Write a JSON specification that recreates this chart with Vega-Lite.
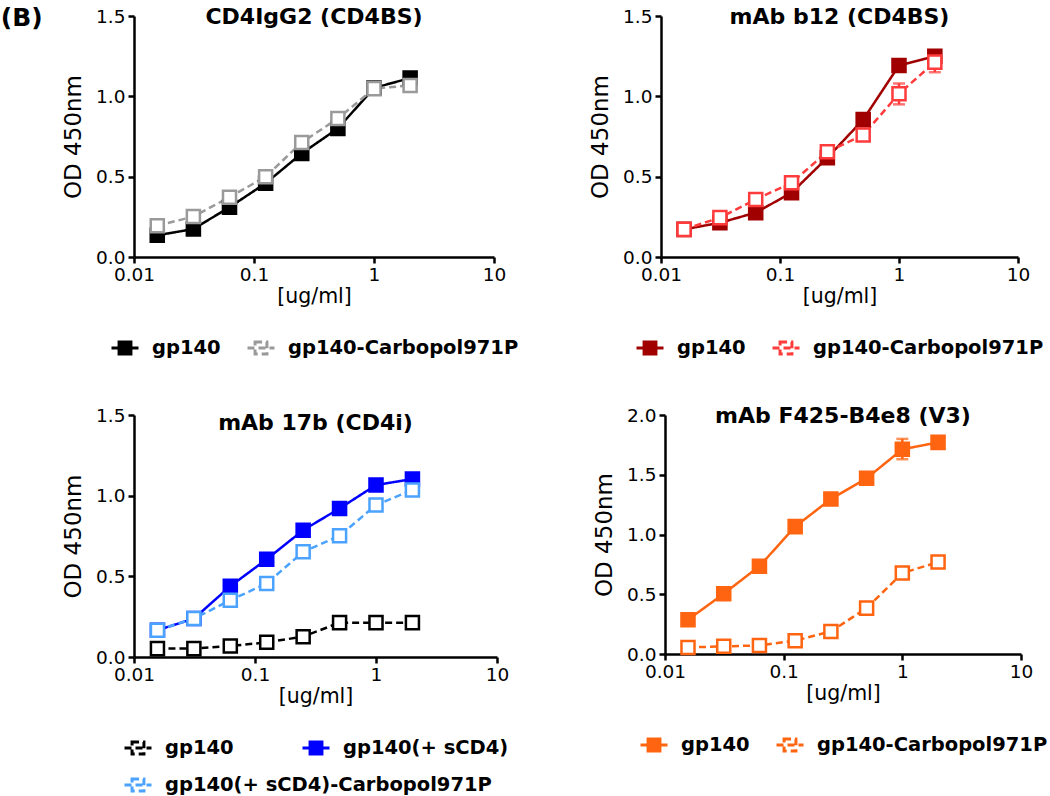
{
  "$schema": "https://vega.github.io/schema/vega-lite/v6.json",
  "background": "white",
  "padding": {"left": 0, "top": 6, "right": 0, "bottom": 0},
  "config": {
    "font": "DejaVu Sans",
    "view": {"stroke": null},
    "axis": {"domainColor": "#000", "domainWidth": 2.5, "tickColor": "#000", "tickWidth": 2.5, "tickSize": 6, "labelColor": "#000", "labelFont": "DejaVu Sans", "labelFontSize": 18.5, "titleFont": "DejaVu Sans", "titleFontWeight": "normal", "titleColor": "#000", "grid": false, "labelPadding": 2},
    "axisX": {"titleFontSize": 20.5, "titlePadding": 3, "labelFlush": false},
    "axisY": {"titleFontSize": 23, "titlePadding": 10, "labelPadding": 3},
    "title": {"font": "DejaVu Sans", "fontSize": 22, "fontWeight": "bold", "color": "#000", "baseline": "alphabetic", "offset": -22},
    "legend": {"orient": "bottom", "direction": "horizontal", "labelFont": "DejaVu Sans", "labelFontSize": 19.5, "labelFontWeight": "bold", "labelColor": "#000", "labelLimit": 0, "symbolStrokeWidth": 3, "labelOffset": 12, "columnPadding": 20, "offset": 26, "layout": {"bottom": {"anchor": "middle", "direction": "vertical", "margin": 10}}}
  },
  "title": {"text": "(B)", "orient": "left", "anchor": "end", "angle": 0, "align": "right", "baseline": "top", "fontSize": 25, "fontWeight": "bold", "offset": -22},
  "datasets": {
    "p1": [
      {"c": 0.015625, "od": 0.135, "s": "gp140"},
      {"c": 0.03125, "od": 0.174, "s": "gp140"},
      {"c": 0.0625, "od": 0.31, "s": "gp140"},
      {"c": 0.125, "od": 0.459, "s": "gp140"},
      {"c": 0.25, "od": 0.645, "s": "gp140"},
      {"c": 0.5, "od": 0.8, "s": "gp140"},
      {"c": 1, "od": 1.052, "s": "gp140"},
      {"c": 2, "od": 1.114, "s": "gp140"},
      {"c": 0.015625, "od": 0.194, "s": "gp140-Carbopol971P"},
      {"c": 0.03125, "od": 0.252, "s": "gp140-Carbopol971P"},
      {"c": 0.0625, "od": 0.372, "s": "gp140-Carbopol971P"},
      {"c": 0.125, "od": 0.5, "s": "gp140-Carbopol971P"},
      {"c": 0.25, "od": 0.713, "s": "gp140-Carbopol971P"},
      {"c": 0.5, "od": 0.862, "s": "gp140-Carbopol971P"},
      {"c": 1, "od": 1.048, "s": "gp140-Carbopol971P"},
      {"c": 2, "od": 1.068, "s": "gp140-Carbopol971P"}
    ],
    "p2": [
      {"c": 0.015625, "od": 0.172, "s": "gp140"},
      {"c": 0.03125, "od": 0.213, "s": "gp140"},
      {"c": 0.0625, "od": 0.276, "s": "gp140"},
      {"c": 0.125, "od": 0.4, "s": "gp140"},
      {"c": 0.25, "od": 0.618, "s": "gp140"},
      {"c": 0.5, "od": 0.855, "s": "gp140"},
      {"c": 1, "od": 1.192, "s": "gp140"},
      {"c": 2, "od": 1.25, "s": "gp140", "lo": 1.22, "hi": 1.28},
      {"c": 0.015625, "od": 0.172, "s": "gp140-Carbopol971P"},
      {"c": 0.03125, "od": 0.245, "s": "gp140-Carbopol971P"},
      {"c": 0.0625, "od": 0.358, "s": "gp140-Carbopol971P"},
      {"c": 0.125, "od": 0.462, "s": "gp140-Carbopol971P"},
      {"c": 0.25, "od": 0.655, "s": "gp140-Carbopol971P"},
      {"c": 0.5, "od": 0.759, "s": "gp140-Carbopol971P"},
      {"c": 1, "od": 1.016, "s": "gp140-Carbopol971P", "lo": 0.95, "hi": 1.08},
      {"c": 2, "od": 1.213, "s": "gp140-Carbopol971P", "lo": 1.15, "hi": 1.27}
    ],
    "p3": [
      {"c": 0.015625, "od": 0.052, "s": "gp140"},
      {"c": 0.03125, "od": 0.052, "s": "gp140"},
      {"c": 0.0625, "od": 0.068, "s": "gp140"},
      {"c": 0.125, "od": 0.091, "s": "gp140"},
      {"c": 0.25, "od": 0.126, "s": "gp140"},
      {"c": 0.5, "od": 0.213, "s": "gp140"},
      {"c": 1, "od": 0.213, "s": "gp140"},
      {"c": 2, "od": 0.213, "s": "gp140"},
      {"c": 0.015625, "od": 0.166, "s": "gp140(+ sCD4)"},
      {"c": 0.03125, "od": 0.238, "s": "gp140(+ sCD4)"},
      {"c": 0.0625, "od": 0.439, "s": "gp140(+ sCD4)"},
      {"c": 0.125, "od": 0.606, "s": "gp140(+ sCD4)"},
      {"c": 0.25, "od": 0.786, "s": "gp140(+ sCD4)"},
      {"c": 0.5, "od": 0.921, "s": "gp140(+ sCD4)"},
      {"c": 1, "od": 1.066, "s": "gp140(+ sCD4)"},
      {"c": 2, "od": 1.103, "s": "gp140(+ sCD4)"},
      {"c": 0.015625, "od": 0.166, "s": "gp140(+ sCD4)-Carbopol971P"},
      {"c": 0.03125, "od": 0.238, "s": "gp140(+ sCD4)-Carbopol971P"},
      {"c": 0.0625, "od": 0.352, "s": "gp140(+ sCD4)-Carbopol971P"},
      {"c": 0.125, "od": 0.456, "s": "gp140(+ sCD4)-Carbopol971P"},
      {"c": 0.25, "od": 0.652, "s": "gp140(+ sCD4)-Carbopol971P"},
      {"c": 0.5, "od": 0.751, "s": "gp140(+ sCD4)-Carbopol971P"},
      {"c": 1, "od": 0.942, "s": "gp140(+ sCD4)-Carbopol971P"},
      {"c": 2, "od": 1.035, "s": "gp140(+ sCD4)-Carbopol971P"}
    ],
    "p4": [
      {"c": 0.015625, "od": 0.287, "s": "gp140"},
      {"c": 0.03125, "od": 0.504, "s": "gp140"},
      {"c": 0.0625, "od": 0.735, "s": "gp140"},
      {"c": 0.125, "od": 1.066, "s": "gp140"},
      {"c": 0.25, "od": 1.297, "s": "gp140", "lo": 1.27, "hi": 1.33},
      {"c": 0.5, "od": 1.47, "s": "gp140"},
      {"c": 1, "od": 1.713, "s": "gp140", "lo": 1.63, "hi": 1.8},
      {"c": 2, "od": 1.771, "s": "gp140"},
      {"c": 0.015625, "od": 0.055, "s": "gp140-Carbopol971P"},
      {"c": 0.03125, "od": 0.064, "s": "gp140-Carbopol971P"},
      {"c": 0.0625, "od": 0.072, "s": "gp140-Carbopol971P"},
      {"c": 0.125, "od": 0.111, "s": "gp140-Carbopol971P"},
      {"c": 0.25, "od": 0.189, "s": "gp140-Carbopol971P"},
      {"c": 0.5, "od": 0.384, "s": "gp140-Carbopol971P"},
      {"c": 1, "od": 0.677, "s": "gp140-Carbopol971P"},
      {"c": 2, "od": 0.769, "s": "gp140-Carbopol971P"}
    ]
  },
  "vconcat": [
    {
      "hconcat": [
        {
          "width": 360, "height": 241,
          "data": {"name": "p1"},
          "title": {"text": "CD4IgG2 (CD4BS)"},
          "encoding": {
            "x": {"field": "c", "type": "quantitative", "scale": {"type": "log", "domain": [0.01, 10], "nice": false}, "axis": {"values": [0.01, 0.1, 1, 10], "format": "~g", "title": "[ug/ml]"}},
            "y": {"field": "od", "type": "quantitative", "scale": {"domain": [0, 1.5], "nice": false}, "axis": {"values": [0, 0.5, 1, 1.5], "format": ".1f", "title": "OD 450nm"}}
          },
          "layer": [
            {"mark": {"type": "line", "strokeWidth": 2.5},
             "encoding": {
               "stroke": {"field": "s", "type": "nominal", "scale": {"domain": ["gp140", "gp140-Carbopol971P"], "range": ["#000000", "#9a9a9a"]}, "legend": {"title": null, "symbolType": "M-1,0H1M-0.44,-0.44H0.44V0.44H-0.44Z", "symbolSize": 729}},
               "strokeDash": {"field": "s", "type": "nominal", "scale": {"domain": ["gp140", "gp140-Carbopol971P"], "range": [[1, 0], [7, 4]]}, "legend": null}
             }},
            {"mark": {"type": "point", "shape": "square", "size": 170, "filled": true, "opacity": 1, "strokeWidth": 2.5},
             "encoding": {
               "stroke": {"field": "s", "type": "nominal", "scale": {"domain": ["gp140", "gp140-Carbopol971P"], "range": ["#000000", "#9a9a9a"]}, "legend": {"title": null, "symbolType": "M-1,0H1M-0.44,-0.44H0.44V0.44H-0.44Z", "symbolSize": 729}},
               "fill": {"field": "s", "type": "nominal", "scale": {"domain": ["gp140", "gp140-Carbopol971P"], "range": ["#000000", "#ffffff"]}, "legend": {"title": null, "symbolType": "M-1,0H1M-0.44,-0.44H0.44V0.44H-0.44Z", "symbolSize": 729}}
             }}
          ]
        },
        {
          "width": 357, "height": 241,
          "data": {"name": "p2"},
          "title": {"text": "mAb  b12 (CD4BS)"},
          "encoding": {
            "x": {"field": "c", "type": "quantitative", "scale": {"type": "log", "domain": [0.01, 10], "nice": false}, "axis": {"values": [0.01, 0.1, 1, 10], "format": "~g", "title": "[ug/ml]"}},
            "y": {"field": "od", "type": "quantitative", "scale": {"domain": [0, 1.5], "nice": false}, "axis": {"values": [0, 0.5, 1, 1.5], "format": ".1f", "title": "OD 450nm"}}
          },
          "layer": [
            {"transform": [{"filter": "isValid(datum.lo) && datum.s == 'gp140'"}],
             "mark": {"type": "errorbar", "ticks": {"size": 12}, "thickness": 2.5, "color": "#a00000"},
             "encoding": {
               "y": {"field": "lo", "type": "quantitative", "title": "OD 450nm"},
               "y2": {"field": "hi"}
             }},
            {"transform": [{"filter": "isValid(datum.lo) && datum.s == 'gp140-Carbopol971P'"}],
             "mark": {"type": "errorbar", "ticks": {"size": 12}, "thickness": 2.5, "color": "#ff3b3b"},
             "encoding": {
               "y": {"field": "lo", "type": "quantitative", "title": "OD 450nm"},
               "y2": {"field": "hi"}
             }},
            {"mark": {"type": "line", "strokeWidth": 2.5},
             "encoding": {
               "stroke": {"field": "s", "type": "nominal", "scale": {"domain": ["gp140", "gp140-Carbopol971P"], "range": ["#a00000", "#ff3b3b"]}, "legend": {"title": null, "symbolType": "M-1,0H1M-0.44,-0.44H0.44V0.44H-0.44Z", "symbolSize": 729}},
               "strokeDash": {"field": "s", "type": "nominal", "scale": {"domain": ["gp140", "gp140-Carbopol971P"], "range": [[1, 0], [7, 4]]}, "legend": null}
             }},
            {"mark": {"type": "point", "shape": "square", "size": 170, "filled": true, "opacity": 1, "strokeWidth": 2.5},
             "encoding": {
               "stroke": {"field": "s", "type": "nominal", "scale": {"domain": ["gp140", "gp140-Carbopol971P"], "range": ["#a00000", "#ff3b3b"]}, "legend": {"title": null, "symbolType": "M-1,0H1M-0.44,-0.44H0.44V0.44H-0.44Z", "symbolSize": 729}},
               "fill": {"field": "s", "type": "nominal", "scale": {"domain": ["gp140", "gp140-Carbopol971P"], "range": ["#a00000", "#ffffff"]}, "legend": {"title": null, "symbolType": "M-1,0H1M-0.44,-0.44H0.44V0.44H-0.44Z", "symbolSize": 729}}
             }}
          ]
        }
      ],
      "spacing": 70,
      "resolve": {"scale": {"color": "independent", "stroke": "independent", "fill": "independent", "strokeDash": "independent"}, "legend": {"color": "independent", "stroke": "independent", "fill": "independent"}}
    },
    {
      "hconcat": [
        {
          "width": 363, "height": 242,
          "data": {"name": "p3"},
          "title": {"text": "mAb 17b (CD4i)", "offset": -29},
          "encoding": {
            "x": {"field": "c", "type": "quantitative", "scale": {"type": "log", "domain": [0.01, 10], "nice": false}, "axis": {"values": [0.01, 0.1, 1, 10], "format": "~g", "title": "[ug/ml]"}},
            "y": {"field": "od", "type": "quantitative", "scale": {"domain": [0, 1.5], "nice": false}, "axis": {"values": [0, 0.5, 1, 1.5], "format": ".1f", "title": "OD 450nm"}}
          },
          "layer": [
            {
              "transform": [{"filter": "datum.s != 'gp140(+ sCD4)-Carbopol971P'"}],
              "layer": [
                {"mark": {"type": "line", "strokeWidth": 2.5},
                 "encoding": {
                   "stroke": {"field": "s", "type": "nominal", "scale": {"domain": ["gp140", "gp140(+ sCD4)"], "range": ["#000000", "#0000ff"]}, "legend": {"title": null, "columnPadding": 62, "symbolType": "M-1,0H1M-0.44,-0.44H0.44V0.44H-0.44Z", "symbolSize": 729}},
                   "strokeDash": {"field": "s", "type": "nominal", "scale": {"domain": ["gp140", "gp140(+ sCD4)"], "range": [[7, 4], [1, 0]]}, "legend": null}
                 }},
                {"mark": {"type": "point", "shape": "square", "size": 170, "filled": true, "opacity": 1, "strokeWidth": 2.5},
                 "encoding": {
                   "stroke": {"field": "s", "type": "nominal", "scale": {"domain": ["gp140", "gp140(+ sCD4)"], "range": ["#000000", "#0000ff"]}, "legend": {"title": null, "columnPadding": 62, "symbolType": "M-1,0H1M-0.44,-0.44H0.44V0.44H-0.44Z", "symbolSize": 729}},
                   "fill": {"field": "s", "type": "nominal", "scale": {"domain": ["gp140", "gp140(+ sCD4)"], "range": ["#ffffff", "#0000ff"]}, "legend": {"title": null, "columnPadding": 62, "symbolType": "M-1,0H1M-0.44,-0.44H0.44V0.44H-0.44Z", "symbolSize": 729}}
                 }}
              ]
            },
            {
              "transform": [{"filter": "datum.s == 'gp140(+ sCD4)-Carbopol971P'"}],
              "layer": [
                {"mark": {"type": "line", "strokeWidth": 2.5},
                 "encoding": {
                   "stroke": {"field": "s", "type": "nominal", "scale": {"domain": ["gp140(+ sCD4)-Carbopol971P"], "range": ["#4ba3ff"]}, "legend": {"title": null, "symbolType": "M-1,0H1M-0.44,-0.44H0.44V0.44H-0.44Z", "symbolSize": 729}},
                   "strokeDash": {"field": "s", "type": "nominal", "scale": {"domain": ["gp140(+ sCD4)-Carbopol971P"], "range": [[7, 4]]}, "legend": null}
                 }},
                {"mark": {"type": "point", "shape": "square", "size": 170, "filled": true, "opacity": 1, "strokeWidth": 2.5},
                 "encoding": {
                   "stroke": {"field": "s", "type": "nominal", "scale": {"domain": ["gp140(+ sCD4)-Carbopol971P"], "range": ["#4ba3ff"]}, "legend": {"title": null, "symbolType": "M-1,0H1M-0.44,-0.44H0.44V0.44H-0.44Z", "symbolSize": 729}},
                   "fill": {"field": "s", "type": "nominal", "scale": {"domain": ["gp140(+ sCD4)-Carbopol971P"], "range": ["#ffffff"]}, "legend": {"title": null, "symbolType": "M-1,0H1M-0.44,-0.44H0.44V0.44H-0.44Z", "symbolSize": 729}}
                 }}
              ]
            }
          ],
          "resolve": {"scale": {"stroke": "independent", "fill": "independent", "strokeDash": "independent"}, "legend": {"stroke": "independent", "fill": "independent"}}
        },
        {
          "width": 356, "height": 239,
          "data": {"name": "p4"},
          "title": {"text": "mAb F425-B4e8 (V3)"},
          "encoding": {
            "x": {"field": "c", "type": "quantitative", "scale": {"type": "log", "domain": [0.01, 10], "nice": false}, "axis": {"values": [0.01, 0.1, 1, 10], "format": "~g", "title": "[ug/ml]"}},
            "y": {"field": "od", "type": "quantitative", "scale": {"domain": [0, 2], "nice": false}, "axis": {"values": [0, 0.5, 1, 1.5, 2], "format": ".1f", "title": "OD 450nm"}}
          },
          "layer": [
            {"transform": [{"filter": "isValid(datum.lo)"}],
             "mark": {"type": "errorbar", "ticks": {"size": 12}, "thickness": 2.5, "color": "#ff6410"},
             "encoding": {
               "y": {"field": "lo", "type": "quantitative", "title": "OD 450nm"},
               "y2": {"field": "hi"}
             }},
            {"mark": {"type": "line", "strokeWidth": 2.5},
             "encoding": {
               "stroke": {"field": "s", "type": "nominal", "scale": {"domain": ["gp140", "gp140-Carbopol971P"], "range": ["#ff6410", "#ff6410"]}, "legend": {"title": null, "symbolType": "M-1,0H1M-0.44,-0.44H0.44V0.44H-0.44Z", "symbolSize": 729}},
               "strokeDash": {"field": "s", "type": "nominal", "scale": {"domain": ["gp140", "gp140-Carbopol971P"], "range": [[1, 0], [7, 4]]}, "legend": null}
             }},
            {"mark": {"type": "point", "shape": "square", "size": 170, "filled": true, "opacity": 1, "strokeWidth": 2.5},
             "encoding": {
               "stroke": {"field": "s", "type": "nominal", "scale": {"domain": ["gp140", "gp140-Carbopol971P"], "range": ["#ff6410", "#ff6410"]}, "legend": {"title": null, "symbolType": "M-1,0H1M-0.44,-0.44H0.44V0.44H-0.44Z", "symbolSize": 729}},
               "fill": {"field": "s", "type": "nominal", "scale": {"domain": ["gp140", "gp140-Carbopol971P"], "range": ["#ff6410", "#ffffff"]}, "legend": {"title": null, "symbolType": "M-1,0H1M-0.44,-0.44H0.44V0.44H-0.44Z", "symbolSize": 729}}
             }}
          ]
        }
      ],
      "spacing": 84,
      "resolve": {"scale": {"color": "independent", "stroke": "independent", "fill": "independent", "strokeDash": "independent"}, "legend": {"color": "independent", "stroke": "independent", "fill": "independent"}}
    }
  ],
  "spacing": 45,
  "resolve": {"scale": {"color": "independent", "stroke": "independent", "fill": "independent", "strokeDash": "independent"}, "legend": {"color": "independent", "stroke": "independent", "fill": "independent"}}
}
